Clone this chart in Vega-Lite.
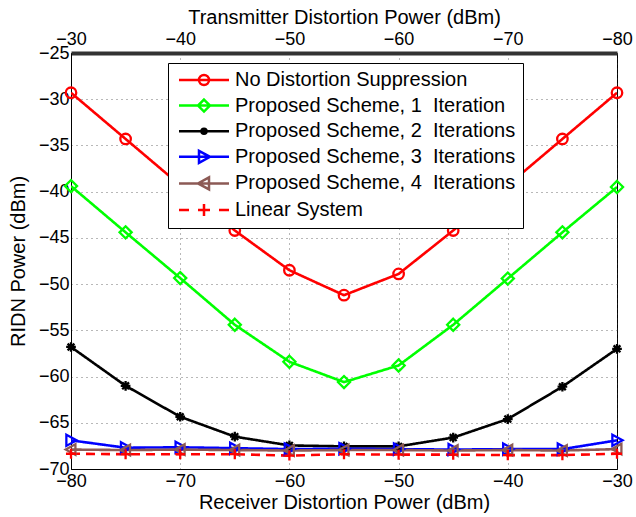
{
  "$schema": "https://vega.github.io/schema/vega-lite/v6.json",
  "width": 546,
  "height": 416,
  "autosize": {"type": "none"},
  "padding": {"left": 71, "top": 53, "right": 19, "bottom": 48},
  "background": "white",
  "datasets": {
    "ridn": [
      {"rx": -80, "series": "No Distortion Suppression", "ridn": -29.3},
      {"rx": -75, "series": "No Distortion Suppression", "ridn": -34.3},
      {"rx": -70, "series": "No Distortion Suppression", "ridn": -39.3},
      {"rx": -65, "series": "No Distortion Suppression", "ridn": -44.2},
      {"rx": -60, "series": "No Distortion Suppression", "ridn": -48.5},
      {"rx": -55, "series": "No Distortion Suppression", "ridn": -51.2},
      {"rx": -50, "series": "No Distortion Suppression", "ridn": -48.9},
      {"rx": -45, "series": "No Distortion Suppression", "ridn": -44.2},
      {"rx": -40, "series": "No Distortion Suppression", "ridn": -39.3},
      {"rx": -35, "series": "No Distortion Suppression", "ridn": -34.3},
      {"rx": -30, "series": "No Distortion Suppression", "ridn": -29.3},
      {"rx": -80, "series": "Proposed Scheme, 1\u00a0 Iteration", "ridn": -39.4},
      {"rx": -75, "series": "Proposed Scheme, 1\u00a0 Iteration", "ridn": -44.4},
      {"rx": -70, "series": "Proposed Scheme, 1\u00a0 Iteration", "ridn": -49.35},
      {"rx": -65, "series": "Proposed Scheme, 1\u00a0 Iteration", "ridn": -54.4},
      {"rx": -60, "series": "Proposed Scheme, 1\u00a0 Iteration", "ridn": -58.4},
      {"rx": -55, "series": "Proposed Scheme, 1\u00a0 Iteration", "ridn": -60.6},
      {"rx": -50, "series": "Proposed Scheme, 1\u00a0 Iteration", "ridn": -58.8},
      {"rx": -45, "series": "Proposed Scheme, 1\u00a0 Iteration", "ridn": -54.4},
      {"rx": -40, "series": "Proposed Scheme, 1\u00a0 Iteration", "ridn": -49.4},
      {"rx": -35, "series": "Proposed Scheme, 1\u00a0 Iteration", "ridn": -44.4},
      {"rx": -30, "series": "Proposed Scheme, 1\u00a0 Iteration", "ridn": -39.5},
      {"rx": -80, "series": "Proposed Scheme, 2\u00a0 Iterations", "ridn": -56.8},
      {"rx": -75, "series": "Proposed Scheme, 2\u00a0 Iterations", "ridn": -61.0},
      {"rx": -70, "series": "Proposed Scheme, 2\u00a0 Iterations", "ridn": -64.35},
      {"rx": -65, "series": "Proposed Scheme, 2\u00a0 Iterations", "ridn": -66.5},
      {"rx": -60, "series": "Proposed Scheme, 2\u00a0 Iterations", "ridn": -67.45},
      {"rx": -55, "series": "Proposed Scheme, 2\u00a0 Iterations", "ridn": -67.55},
      {"rx": -50, "series": "Proposed Scheme, 2\u00a0 Iterations", "ridn": -67.55},
      {"rx": -45, "series": "Proposed Scheme, 2\u00a0 Iterations", "ridn": -66.6},
      {"rx": -40, "series": "Proposed Scheme, 2\u00a0 Iterations", "ridn": -64.6},
      {"rx": -35, "series": "Proposed Scheme, 2\u00a0 Iterations", "ridn": -61.1},
      {"rx": -30, "series": "Proposed Scheme, 2\u00a0 Iterations", "ridn": -57.0},
      {"rx": -80, "series": "Proposed Scheme, 3\u00a0 Iterations", "ridn": -66.9},
      {"rx": -75, "series": "Proposed Scheme, 3\u00a0 Iterations", "ridn": -67.7},
      {"rx": -70, "series": "Proposed Scheme, 3\u00a0 Iterations", "ridn": -67.65},
      {"rx": -65, "series": "Proposed Scheme, 3\u00a0 Iterations", "ridn": -67.75},
      {"rx": -60, "series": "Proposed Scheme, 3\u00a0 Iterations", "ridn": -67.85},
      {"rx": -55, "series": "Proposed Scheme, 3\u00a0 Iterations", "ridn": -67.8},
      {"rx": -50, "series": "Proposed Scheme, 3\u00a0 Iterations", "ridn": -67.85},
      {"rx": -45, "series": "Proposed Scheme, 3\u00a0 Iterations", "ridn": -67.9},
      {"rx": -40, "series": "Proposed Scheme, 3\u00a0 Iterations", "ridn": -67.85},
      {"rx": -35, "series": "Proposed Scheme, 3\u00a0 Iterations", "ridn": -67.85},
      {"rx": -30, "series": "Proposed Scheme, 3\u00a0 Iterations", "ridn": -66.9},
      {"rx": -80, "series": "Proposed Scheme, 4\u00a0 Iterations", "ridn": -67.9},
      {"rx": -75, "series": "Proposed Scheme, 4\u00a0 Iterations", "ridn": -67.95},
      {"rx": -70, "series": "Proposed Scheme, 4\u00a0 Iterations", "ridn": -67.9},
      {"rx": -65, "series": "Proposed Scheme, 4\u00a0 Iterations", "ridn": -67.95},
      {"rx": -60, "series": "Proposed Scheme, 4\u00a0 Iterations", "ridn": -68.0},
      {"rx": -55, "series": "Proposed Scheme, 4\u00a0 Iterations", "ridn": -67.95},
      {"rx": -50, "series": "Proposed Scheme, 4\u00a0 Iterations", "ridn": -67.95},
      {"rx": -45, "series": "Proposed Scheme, 4\u00a0 Iterations", "ridn": -68.0},
      {"rx": -40, "series": "Proposed Scheme, 4\u00a0 Iterations", "ridn": -67.95},
      {"rx": -35, "series": "Proposed Scheme, 4\u00a0 Iterations", "ridn": -68.0},
      {"rx": -30, "series": "Proposed Scheme, 4\u00a0 Iterations", "ridn": -67.85},
      {"rx": -80, "series": "Linear System", "ridn": -68.35},
      {"rx": -75, "series": "Linear System", "ridn": -68.4},
      {"rx": -70, "series": "Linear System", "ridn": -68.4},
      {"rx": -65, "series": "Linear System", "ridn": -68.4},
      {"rx": -60, "series": "Linear System", "ridn": -68.55},
      {"rx": -55, "series": "Linear System", "ridn": -68.4},
      {"rx": -50, "series": "Linear System", "ridn": -68.45},
      {"rx": -45, "series": "Linear System", "ridn": -68.45},
      {"rx": -40, "series": "Linear System", "ridn": -68.5},
      {"rx": -35, "series": "Linear System", "ridn": -68.5},
      {"rx": -30, "series": "Linear System", "ridn": -68.35}
    ],
    "txaxis": [{"tx": -30}, {"tx": -80}]
  },
  "layer": [
    {
      "data": {"name": "ridn"},
      "encoding": {
        "x": {
          "field": "rx", "type": "quantitative",
          "scale": {"domain": [-80, -30], "nice": false, "zero": false},
          "axis": {"title": "Receiver Distortion Power (dBm)", "values": [-80, -70, -60, -50, -40, -30], "orient": "bottom", "labelPadding": 3, "titlePadding": 2, "grid": true}
        },
        "y": {
          "field": "ridn", "type": "quantitative",
          "scale": {"domain": [-70, -25], "nice": false, "zero": false},
          "axis": {"title": "RIDN Power (dBm)", "values": [-70, -65, -60, -55, -50, -45, -40, -35, -30, -25], "labelPadding": 2, "titlePadding": 10, "grid": true}
        }
      },
      "layer": [
        {
          "mark": {"type": "line", "strokeWidth": 2.6, "clip": true},
          "encoding": {
            "color": {
              "field": "series", "type": "nominal", "legend": null,
              "scale": {
                "domain": ["No Distortion Suppression", "Proposed Scheme, 1\u00a0 Iteration", "Proposed Scheme, 2\u00a0 Iterations", "Proposed Scheme, 3\u00a0 Iterations", "Proposed Scheme, 4\u00a0 Iterations", "Linear System"],
                "range": ["#ff0000", "#00ff00", "#000000", "#0000ff", "#8c5a55", "#ff0000"]
              }
            },
            "strokeDash": {
              "field": "series", "type": "nominal", "legend": null,
              "scale": {
                "domain": ["No Distortion Suppression", "Proposed Scheme, 1\u00a0 Iteration", "Proposed Scheme, 2\u00a0 Iterations", "Proposed Scheme, 3\u00a0 Iterations", "Proposed Scheme, 4\u00a0 Iterations", "Linear System"],
                "range": [[1, 0], [1, 0], [1, 0], [1, 0], [1, 0], [9, 6]]
              }
            }
          }
        },
        {
          "mark": {"type": "point", "filled": false, "strokeWidth": 2.3, "opacity": 1, "clip": false},
          "encoding": {
            "color": {"field": "series", "type": "nominal", "legend": null},
            "shape": {
              "field": "series", "type": "nominal", "legend": null,
              "scale": {
                "domain": ["No Distortion Suppression", "Proposed Scheme, 1\u00a0 Iteration", "Proposed Scheme, 2\u00a0 Iterations", "Proposed Scheme, 3\u00a0 Iterations", "Proposed Scheme, 4\u00a0 Iterations", "Linear System"],
                "range": ["circle", "M0,-1.2L1.2,0L0,1.2L-1.2,0Z", "M-1,0H1M0,-1V1M-0.7,-0.7L0.7,0.7M-0.7,0.7L0.7,-0.7", "M-1,-1.2L1.2,0L-1,1.2Z", "M1,-1.2L-1.2,0L1,1.2Z", "M-1.2,0H1.2M0,-1.2V1.2"]
              }
            },
            "size": {
              "field": "series", "type": "nominal", "legend": null,
              "scale": {
                "domain": ["No Distortion Suppression", "Proposed Scheme, 1\u00a0 Iteration", "Proposed Scheme, 2\u00a0 Iterations", "Proposed Scheme, 3\u00a0 Iterations", "Proposed Scheme, 4\u00a0 Iterations", "Linear System"],
                "range": [110, 70, 30, 64, 64, 60]
              }
            }
          }
        },
        {
          "transform": [{"filter": "false"}],
          "mark": {"type": "point", "filled": false, "strokeWidth": 2.2, "opacity": 1},
          "encoding": {
            "stroke": {
              "field": "series", "type": "nominal",
              "scale": {
                "domain": ["No Distortion Suppression", "Proposed Scheme, 1\u00a0 Iteration", "Proposed Scheme, 2\u00a0 Iterations", "Proposed Scheme, 3\u00a0 Iterations", "Proposed Scheme, 4\u00a0 Iterations", "Linear System"],
                "range": ["#ff0000", "#00ff00", "#000000", "#0000ff", "#8c5a55", "#ff0000"]
              },
              "legend": {"title": null, "orient": "none", "legendX": 97, "legendY": 10, "fillColor": "white", "strokeColor": "black", "padding": 7, "symbolSize": 100, "symbolStrokeWidth": 2.5, "symbolOffset": 19, "labelOffset": 21, "rowPadding": 4.6, "labelFontSize": 20, "labelLimit": 500}
            },
            "shape": {
              "field": "series", "type": "nominal",
              "scale": {
                "domain": ["No Distortion Suppression", "Proposed Scheme, 1\u00a0 Iteration", "Proposed Scheme, 2\u00a0 Iterations", "Proposed Scheme, 3\u00a0 Iterations", "Proposed Scheme, 4\u00a0 Iterations", "Linear System"],
                "range": [
                  "M-5,0H5M1,0A1,1,0,1,1,-1,0A1,1,0,1,1,1,0",
                  "M-5,0H5M0,-1.2L1.2,0L0,1.2L-1.2,0Z",
                  "M-5,0H5M0.5,0A0.5,0.5,0,1,1,-0.5,0A0.5,0.5,0,1,1,0.5,0",
                  "M-5,0H5M-1,-1.2L1.2,0L-1,1.2Z",
                  "M-5,0H5M1,-1.2L-1.2,0L1,1.2Z",
                  "M-5,0H-3M3,0H5M-1.2,0H1.2M0,-1.2V1.2"
                ]
              },
              "legend": {"title": null, "orient": "none", "legendX": 97, "legendY": 10, "fillColor": "white", "strokeColor": "black", "padding": 7, "symbolSize": 100, "symbolStrokeWidth": 2.5, "symbolOffset": 19, "labelOffset": 21, "rowPadding": 4.6, "labelFontSize": 20, "labelLimit": 500}
            }
          }
        }
      ],
      "resolve": {"scale": {"shape": "independent", "stroke": "independent"}}
    },
    {
      "data": {"name": "txaxis"},
      "mark": {"type": "rule", "opacity": 0},
      "encoding": {
        "x": {
          "field": "tx", "type": "quantitative",
          "scale": {"domain": [-80, -30], "reverse": true, "nice": false, "zero": false},
          "axis": {"orient": "top", "title": "Transmitter Distortion Power (dBm)", "values": [-80, -70, -60, -50, -40, -30], "grid": false, "labelPadding": 5, "titlePadding": 3, "domainWidth": 4, "domainColor": "#333"}
        }
      }
    }
  ],
  "resolve": {"scale": {"x": "independent"}, "axis": {"x": "independent"}},
  "config": {
    "view": {"stroke": "black", "strokeWidth": 1},
    "font": "Liberation Sans",
    "axis": {
      "labelFont": "Liberation Sans", "titleFont": "Liberation Sans",
      "labelFontSize": 18, "titleFontSize": 20, "titleFontWeight": "normal",
      "labelColor": "black", "titleColor": "black",
      "domainColor": "black", "domainWidth": 1, "ticks": false,
      "gridColor": "#333", "gridDash": [1, 4], "gridWidth": 1, "gridOpacity": 0.7,
      "labelFlush": false, "labelOverlap": false
    },
    "legend": {"labelFont": "Liberation Sans", "labelColor": "black"}
  }
}
